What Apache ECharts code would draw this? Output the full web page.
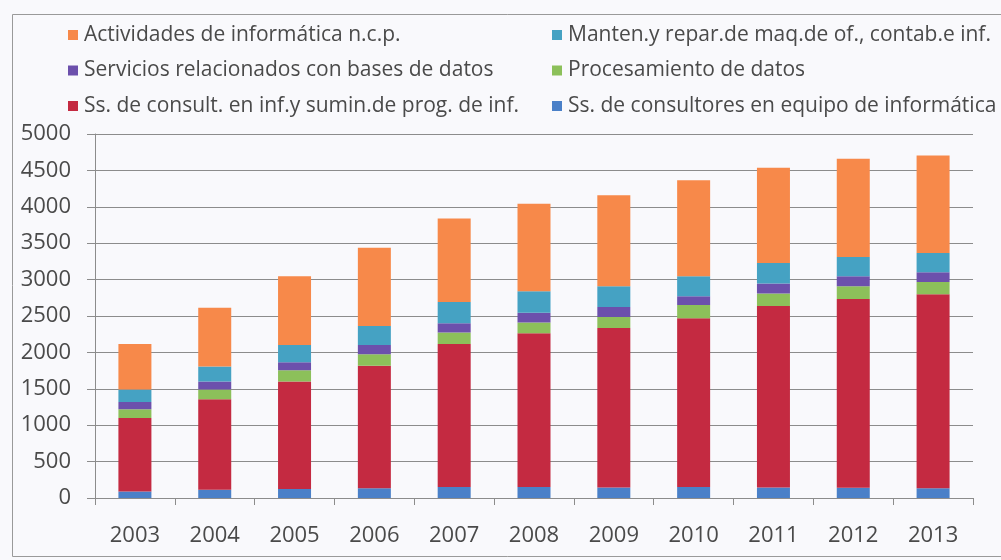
<!DOCTYPE html>
<html>
<head>
<meta charset="utf-8">
<script src="https://cdn.jsdelivr.net/npm/echarts@6/dist/echarts.min.js"></script>
<style>
  html, body { margin: 0; padding: 0; background: #f9f9fc; }
  #chart { width: 1001px; height: 560px; }
</style>
</head>
<body>
<div id="chart"></div>
<script>
// Years on the category axis
const years = ['2003', '2004', '2005', '2006', '2007', '2008', '2009', '2010', '2011', '2012', '2013'];

// Series values (stacked bottom to top)
const consultoresEquipo = [90, 115, 125, 135, 150, 150, 145, 150, 145, 140, 135];
const consultProgramas = [1010, 1240, 1475, 1683, 1964, 2114, 2191, 2318, 2491, 2592, 2665];
const procesamientoDatos = [118, 136, 155, 155, 159, 145, 150, 182, 173, 177, 168];
const basesDatos = [100, 109, 109, 127, 127, 136, 137, 123, 136, 136, 132];
const mantenimiento = [173, 205, 236, 264, 291, 296, 286, 272, 282, 264, 264];
const actividadesNcp = [623, 809, 945, 1072, 1150, 1200, 1250, 1319, 1309, 1350, 1341];

// Value axis ticks
const yTicks = [0, 500, 1000, 1500, 2000, 2500, 3000, 3500, 4000, 4500, 5000];

const names = {
  equipo: 'Ss. de consultores en equipo de informática',
  programas: 'Ss. de consult. en inf.y sumin.de prog. de inf.',
  proc: 'Procesamiento de datos',
  bases: 'Servicios relacionados con bases de datos',
  mant: 'Manten.y repar.de maq.de of., contab.e inf.',
  ncp: 'Actividades de informática n.c.p.'
};

const colors = {
  equipo: '#4a80c8',
  programas: '#c42a41',
  proc: '#8cc05a',
  bases: '#6c50ac',
  mant: '#45a2c3',
  ncp: '#f7894a'
};

const FONT = 'Open Sans';
const TEXT = '#4a4a4a';
const LINE = '#8c8c8c';

function barSeries(key, data) {
  return {
    name: names[key],
    type: 'bar',
    stack: 'total',
    data: data,
    barWidth: 33,
    itemStyle: { color: colors[key] },
    emphasis: { disabled: true }
  };
}

const legendText = {
  fontFamily: FONT,
  fontSize: 21,
  color: TEXT,
  lineHeight: 24,
  padding: [0, 0, 0, 1]
};

const chart = echarts.init(document.getElementById('chart'), null, { renderer: 'canvas' });

chart.setOption({
  animation: false,
  backgroundColor: '#f9f9fc',
  textStyle: { fontFamily: FONT },
  graphic: [{
    type: 'rect',
    shape: { x: 12.5, y: 14.5, width: 1010, height: 542 },
    style: { fill: 'none', stroke: '#9a9a9a', lineWidth: 1 },
    silent: true,
    z: -1
  }],
  legend: [
    {
      orient: 'vertical',
      left: 63,
      top: 18,
      itemWidth: 10,
      itemHeight: 10,
      itemGap: 11.5,
      icon: 'rect',
      selectedMode: false,
      textStyle: legendText,
      data: [names.ncp, names.bases, names.programas]
    },
    {
      orient: 'vertical',
      left: 547,
      top: 18,
      itemWidth: 10,
      itemHeight: 10,
      itemGap: 11.5,
      icon: 'rect',
      selectedMode: false,
      textStyle: legendText,
      data: [names.mant, names.proc, names.equipo]
    }
  ],
  grid: {
    left: 95,
    right: 28,
    top: 134,
    bottom: 62,
    containLabel: false
  },
  xAxis: {
    type: 'category',
    data: years,
    boundaryGap: true,
    axisLine: { show: true, lineStyle: { color: LINE, width: 1 } },
    axisTick: { show: true, length: 7, alignWithLabel: false, lineStyle: { color: LINE } },
    axisLabel: {
      fontFamily: FONT,
      fontSize: 22,
      color: TEXT,
      margin: 27
    },
    splitLine: { show: false }
  },
  yAxis: {
    type: 'value',
    min: yTicks[0],
    max: yTicks[yTicks.length - 1],
    interval: yTicks[1] - yTicks[0],
    axisLine: { show: true, lineStyle: { color: LINE, width: 1 } },
    axisTick: { show: true, length: 8, lineStyle: { color: LINE } },
    axisLabel: {
      fontFamily: FONT,
      fontSize: 22,
      color: TEXT,
      margin: 24,
      formatter: function (v) { return String(v); }
    },
    splitLine: { show: true, lineStyle: { color: LINE, width: 1 } }
  },
  series: [
    barSeries('equipo', consultoresEquipo),
    barSeries('programas', consultProgramas),
    barSeries('proc', procesamientoDatos),
    barSeries('bases', basesDatos),
    barSeries('mant', mantenimiento),
    barSeries('ncp', actividadesNcp)
  ]
});
</script>
</body>
</html>
